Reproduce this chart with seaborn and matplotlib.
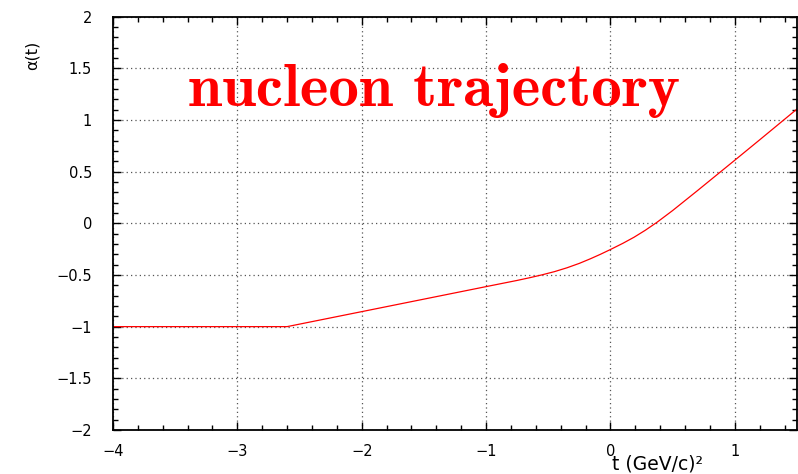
import matplotlib
matplotlib.use("Agg")
import matplotlib.pyplot as plt
from matplotlib.ticker import MultipleLocator, FuncFormatter
import seaborn as sns
import pandas as pd

# data
t_values = [-4.0, -2.6, -2.0, -1.0, -0.75, -0.65, -0.55, -0.45, -0.35, -0.25, -0.16, -0.08, 0.0,
            0.1, 0.19, 0.28, 0.375, 0.5, 0.7, 0.9, 1.0, 1.2, 1.5]
alpha_values = [-1.0, -1.0, -0.855, -0.613, -0.553, -0.527, -0.499, -0.468, -0.431, -0.388, -0.343, -0.300, -0.254,
                -0.194, -0.135, -0.068, 0.010, 0.123, 0.316, 0.512, 0.610, 0.807, 1.105]
x_ticks = [-4, -3, -2, -1, 0, 1]
y_ticks = [-2, -1.5, -1, -0.5, 0, 0.5, 1, 1.5, 2]
title_text = "nucleon trajectory"
x_label = "t (GeV/c)\u00b2"
y_label = "\u03b1(t)"

df = pd.DataFrame({"t": t_values, "alpha": alpha_values})

sns.set_style("white")
plt.rcParams["font.family"] = ["DejaVu Sans"]
plt.rcParams["text.color"] = "black"
plt.rcParams["xtick.color"] = "black"
plt.rcParams["ytick.color"] = "black"

fig = plt.figure(figsize=(7.98, 4.74), dpi=100)
ax = fig.add_axes([113 / 798, 1 - 430 / 474, 684 / 798, (430 - 16.5) / 474])

sns.lineplot(data=df, x="t", y="alpha", color="red", linewidth=0.9, sort=False, ax=ax)

ax.set_xlim(-4, 1.5)
ax.set_ylim(-2, 2)
ax.set_xticks(x_ticks)
ax.set_yticks(y_ticks)
ax.xaxis.set_minor_locator(MultipleLocator(0.2))
ax.yaxis.set_minor_locator(MultipleLocator(0.1))

def fmt(v, pos):
    s = ("%g" % v)
    return s.replace("-", "\u2212")

ax.xaxis.set_major_formatter(FuncFormatter(fmt))
ax.yaxis.set_major_formatter(FuncFormatter(fmt))

ax.tick_params(which="both", direction="in", top=True, right=True, bottom=True, left=True,
               color="black", width=1.0)
ax.tick_params(which="major", length=6)
ax.tick_params(which="minor", length=3.5)
ax.tick_params(axis="y", which="major", pad=15, labelsize=10.5, labelcolor="black")
ax.tick_params(axis="x", which="major", pad=10, labelsize=10.5, labelcolor="black")

ax.grid(True, which="major", color="#555555", linestyle=(0, (1, 2.5)), linewidth=0.9)
for sp in ax.spines.values():
    sp.set_color("black")
    sp.set_linewidth(1.3)
    sp.set_visible(True)

ax.set_xlabel("")
ax.set_ylabel("")

ax.text(-1.42, 1.135, title_text, color="red", fontsize=44, family="cmb10",
        ha="center", va="baseline")

fig.text(658 / 798, 1 - 470 / 474, x_label, ha="center", va="baseline", fontsize=13.5, color="black")
fig.text(32 / 798, 1 - 55 / 474, y_label, ha="center", va="center", rotation=90, fontsize=11.5, color="black")

fig.savefig("out.png", dpi=100)
